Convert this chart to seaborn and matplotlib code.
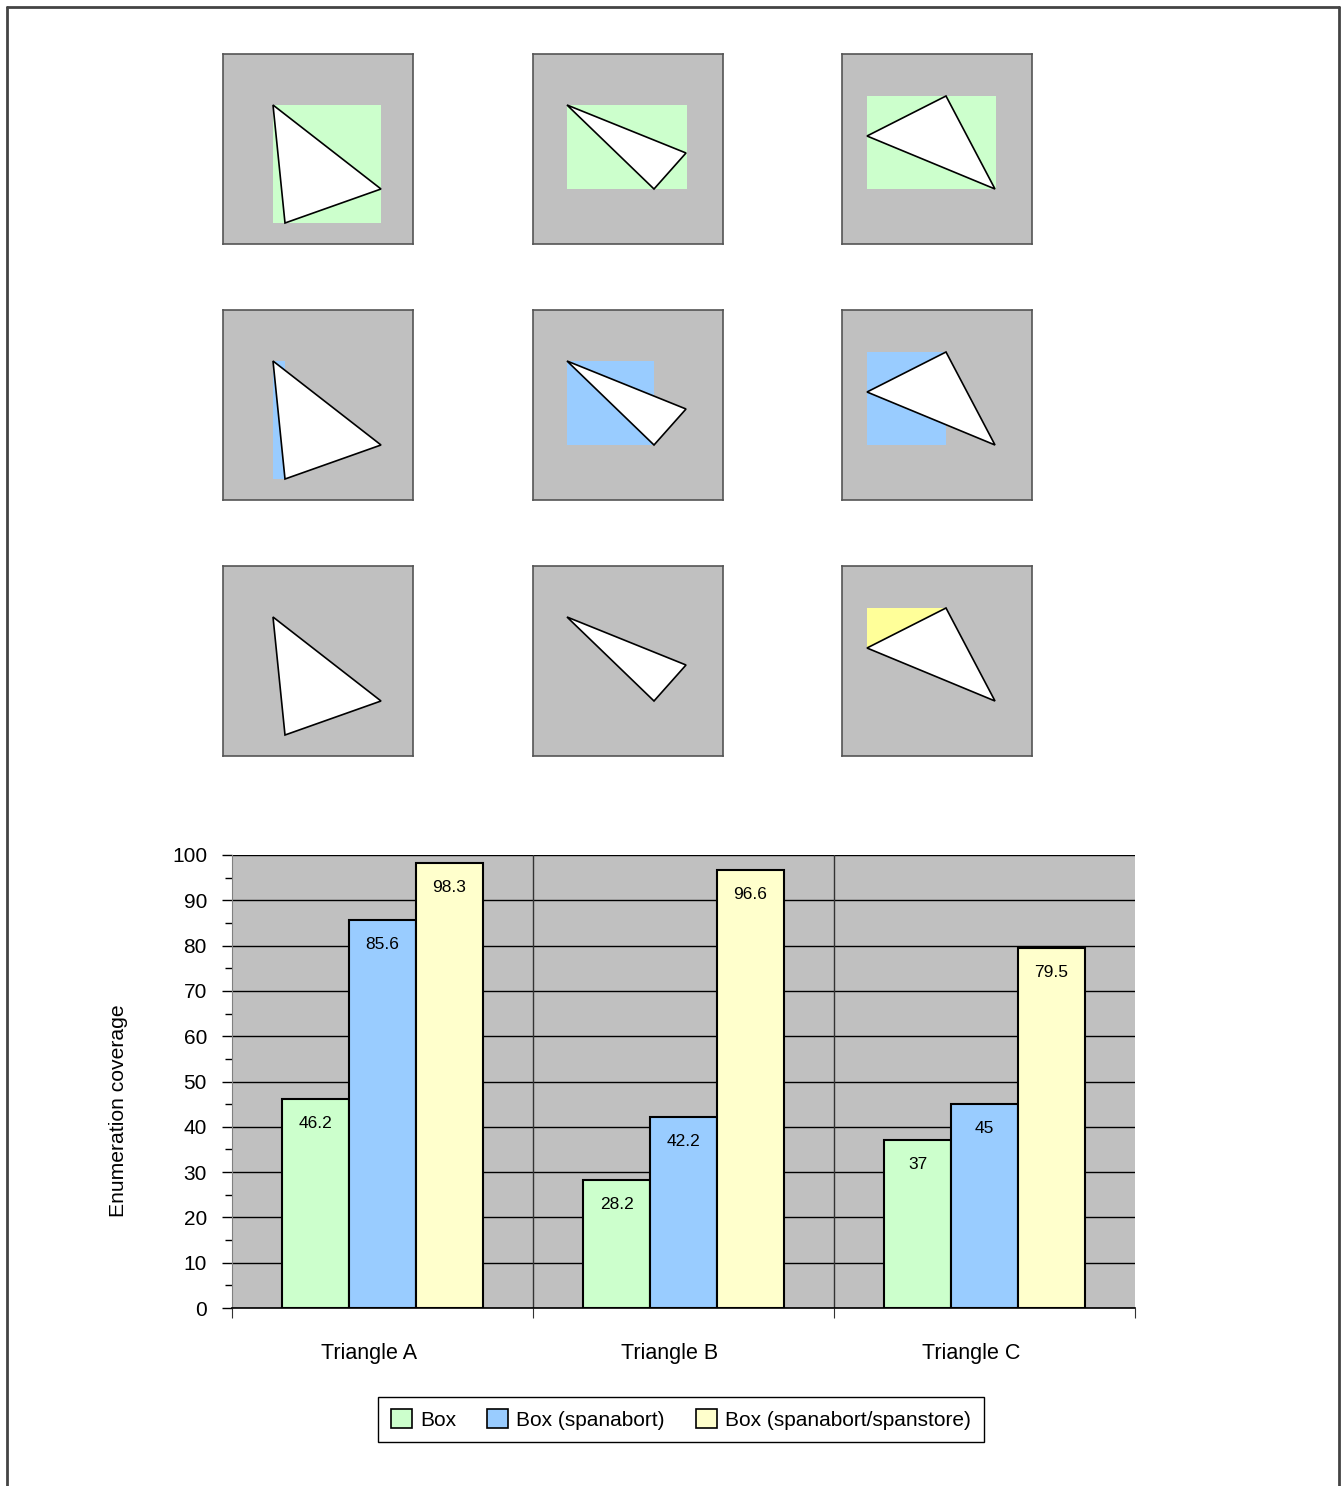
import matplotlib
matplotlib.use("Agg")
import matplotlib.pyplot as plt
from matplotlib.lines import Line2D
from matplotlib.patches import Patch
from matplotlib.ticker import MultipleLocator
import seaborn as sns
import pandas as pd

# bar chart data
triangles = ["Triangle A", "Triangle B", "Triangle C"]
methods = ["Box", "Box (spanabort)", "Box (spanabort/spanstore)"]
box_vals = [46.2, 28.2, 37]
spanabort_vals = [85.6, 42.2, 45]
spanstore_vals = [98.3, 96.6, 79.5]
colors = ["#CCFFCC", "#99CCFF", "#FFFFCC"]

# triangle vertices in panel units (0..190, y down)
tri_xs = [[50, 158, 62], [34, 153, 121], [25, 104, 153]]
tri_ys = [[51, 135, 169], [51, 99, 135], [82, 42, 135]]

# shaded region per row (method) and triangle: [x0, x1, y0, y1]
regions_box = [[50, 158, 51, 169], [34, 154, 51, 135], [25, 154, 42, 135]]
regions_spanabort = [[50, 62, 51, 169], [34, 121, 51, 135], [25, 104, 42, 135]]
regions_spanstore = [None, None, [25, 104, 42, 82]]
region_colors = ["#CCFFCC", "#99CCFF", "#FFFF99"]

W, H = 1341, 1486

sns.set_style("white")
plt.rcParams["font.family"] = ["Liberation Sans", "DejaVu Sans"]
plt.rcParams["text.color"] = "black"
plt.rcParams["axes.labelcolor"] = "black"
plt.rcParams["xtick.color"] = "black"
plt.rcParams["ytick.color"] = "black"

fig = plt.figure(figsize=(W / 100, H / 100), dpi=100)


def fig_rect(x, y, w, h):
    return [x / W, 1 - (y + h) / H, w / W, h / H]


# outer frame (open at bottom)
frame = dict(color="#444444", linewidth=2, transform=fig.transFigure)
fig.add_artist(Line2D([7 / W, 1339 / W], [1 - 7 / H, 1 - 7 / H], **frame))
fig.add_artist(Line2D([7 / W, 7 / W], [0, 1 - 7 / H], **frame))
fig.add_artist(Line2D([1339 / W, 1339 / W], [0, 1 - 7 / H], **frame))

# 3x3 panels
panel_x = [223, 533, 842]
panel_y = [54, 310, 566]
all_regions = [regions_box, regions_spanabort, regions_spanstore]
for r, regions in enumerate(all_regions):
    for c in range(3):
        pax = fig.add_axes(fig_rect(panel_x[c], panel_y[r], 190, 190))
        pax.set_facecolor("#C0C0C0")
        pax.set_xlim(0, 190)
        pax.set_ylim(190, 0)
        pax.set_xticks([])
        pax.set_yticks([])
        for s in pax.spines.values():
            s.set_color("#555555")
            s.set_linewidth(1.2)
        reg = regions[c]
        if reg is not None:
            x0, x1, y0, y1 = reg
            pax.fill([x0, x1, x1, x0], [y0, y0, y1, y1],
                     color=region_colors[r], linewidth=0)
        pax.fill(tri_xs[c], tri_ys[c], facecolor="white",
                 edgecolor="black", linewidth=1.2)

# bar chart
df = pd.DataFrame({
    "triangle": triangles * 3,
    "method": [methods[0]] * 3 + [methods[1]] * 3 + [methods[2]] * 3,
    "coverage": box_vals + spanabort_vals + spanstore_vals,
})

ax = fig.add_axes(fig_rect(232, 855, 903, 453))
ax.set_facecolor("#C0C0C0")
sns.barplot(data=df, x="triangle", y="coverage", hue="method",
            hue_order=methods, palette=colors, saturation=1,
            edgecolor="black", linewidth=1.5, width=0.665, gap=0,
            legend=False, ax=ax, zorder=3)

ax.set_xlim(-0.5, 2.5)
ax.set_ylim(0, 100)
ax.yaxis.set_major_locator(MultipleLocator(10))
ax.yaxis.set_minor_locator(MultipleLocator(5))
ax.grid(axis="y", which="major", color="black", linewidth=1, zorder=0)
ax.set_axisbelow(True)
for b in [0.5, 1.5]:
    ax.axvline(b, color="#333333", linewidth=1, zorder=1)

ax.set_xticks([-0.5, 0.5, 1.5, 2.5])
ax.set_xticklabels([])
ax.set_xticks([-0.045, 0.955, 1.955], minor=True)
ax.set_xticklabels(triangles, minor=True)
ax.tick_params(axis="x", which="major", direction="out", length=7,
               color="#333333", bottom=True)
ax.tick_params(axis="x", which="minor", length=0, pad=25, labelsize=15.5)
ax.tick_params(axis="y", which="major", direction="out", length=7,
               width=1, color="black", left=True, labelsize=15, pad=11)
ax.tick_params(axis="y", which="minor", direction="out", length=5,
               width=1, color="black", left=True)

for s in ["top", "right"]:
    ax.spines[s].set_visible(False)
ax.spines["left"].set_color("#808080")
ax.spines["bottom"].set_color("black")
ax.spines["bottom"].set_linewidth(1.2)

ax.set_xlabel("")
ax.set_ylabel("Enumeration coverage", fontsize=15.2)
ax.yaxis.set_label_coords(-0.115, 0.435)

for cont in ax.containers:
    ax.bar_label(cont, fmt="{:g}", padding=-23, fontsize=12.5, zorder=4)

handles = [Patch(facecolor=col, edgecolor="black", linewidth=1.2)
           for col in colors]
fig.legend(handles, methods, loc="center",
           bbox_to_anchor=(681 / W, 1 - 1419.5 / H), ncol=3, fontsize=15,
           frameon=True, fancybox=False, edgecolor="black", framealpha=1,
           handlelength=1.0, handleheight=1.0, handletextpad=0.4,
           columnspacing=1.5, borderpad=0.6)

fig.savefig("out.png", dpi=100)
